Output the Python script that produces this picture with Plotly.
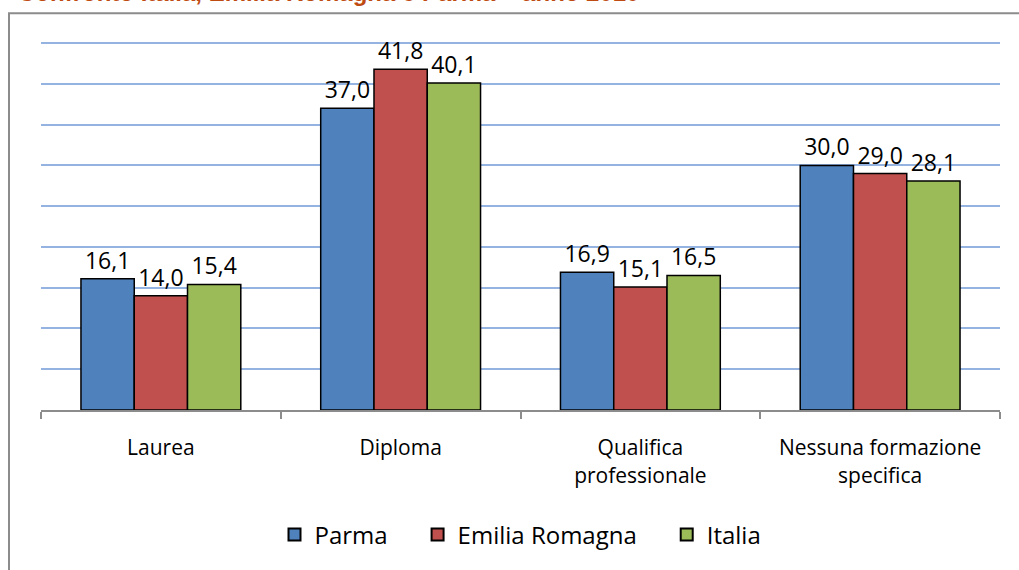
import plotly.graph_objects as go

categories = ["Laurea", "Diploma", "Qualifica<br>professionale", "Nessuna formazione<br>specifica"]
parma = [16.1, 37.0, 16.9, 30.0]
emilia_romagna = [14.0, 41.8, 15.1, 29.0]
italia = [15.4, 40.1, 16.5, 28.1]
series_names = ["Parma", "Emilia Romagna", "Italia"]
colors = ["#4F81BD", "#C0504D", "#9BBB59"]
title_text = "Confronto Italia, Emilia Romagna e Parma – anno 2010"

W, H = 1019, 570
L, R, T, B = 41, 19, 35, 157
plot_h = H - T - B
plot_w = W - L - R

def px_x(px):
    return (px - L) / plot_w

def px_y(py):
    return (H - B - py) / plot_h

pad = "\u00a0" * 4
fig = go.Figure()
for i, (name, vals, col) in enumerate(zip(series_names, [parma, emilia_romagna, italia], colors)):
    fig.add_trace(go.Bar(
        name=name + (pad if i < len(series_names) - 1 else ""), x=categories, y=vals,
        marker=dict(color=col, line=dict(color="#000000", width=1.5)),
        texttemplate="%{y:.1f}", textposition="outside",
        textfont=dict(family="Open Sans", size=23, color="#000000"),
        cliponaxis=False,
    ))

fig.update_layout(
    width=W, height=H,
    margin=dict(l=L, r=R, t=T, b=B),
    paper_bgcolor="white", plot_bgcolor="white",
    barmode="group", bargap=1/3, bargroupgap=0,
    separators=",.",
    font=dict(family="Open Sans", color="#000000"),
    showlegend=True,
    legend=dict(orientation="h", x=0.5, xanchor="center", y=px_y(539), yanchor="middle",
                font=dict(family="Open Sans", size=24, color="#000000"),
                itemsizing="constant", traceorder="normal"),
    xaxis=dict(showline=True, linecolor="#8C8C8C", linewidth=2,
               ticks="outside", tickson="boundaries", ticklen=7, tickcolor="#8C8C8C", tickwidth=2,
               tickfont=dict(family="Open Sans", size=21, color="#000000"),
               ticklabelstandoff=18, showgrid=False),
    yaxis=dict(range=[0, 46], tick0=0, dtick=5, showgrid=True, gridcolor="#95B3E0", gridwidth=2,
               showticklabels=False, zeroline=False, showline=False, ticks=""),
    shapes=[dict(type="rect", xref="paper", yref="paper",
                 x0=px_x(9), x1=px_x(W + 20), y0=px_y(H + 20), y1=px_y(13),
                 line=dict(color="#8C8C8C", width=2), fillcolor="rgba(0,0,0,0)", layer="below")],
    annotations=[dict(text="<b>" + title_text + "</b>", xref="paper", yref="paper",
                      x=px_x(16), xanchor="left", y=px_y(8), yanchor="bottom",
                      showarrow=False, font=dict(family="Liberation Sans", size=24, color="#BE4B12"))],
)

fig.write_html("out.html", config={"displayModeBar": False},
               post_script="document.body.style.margin='0px';")
